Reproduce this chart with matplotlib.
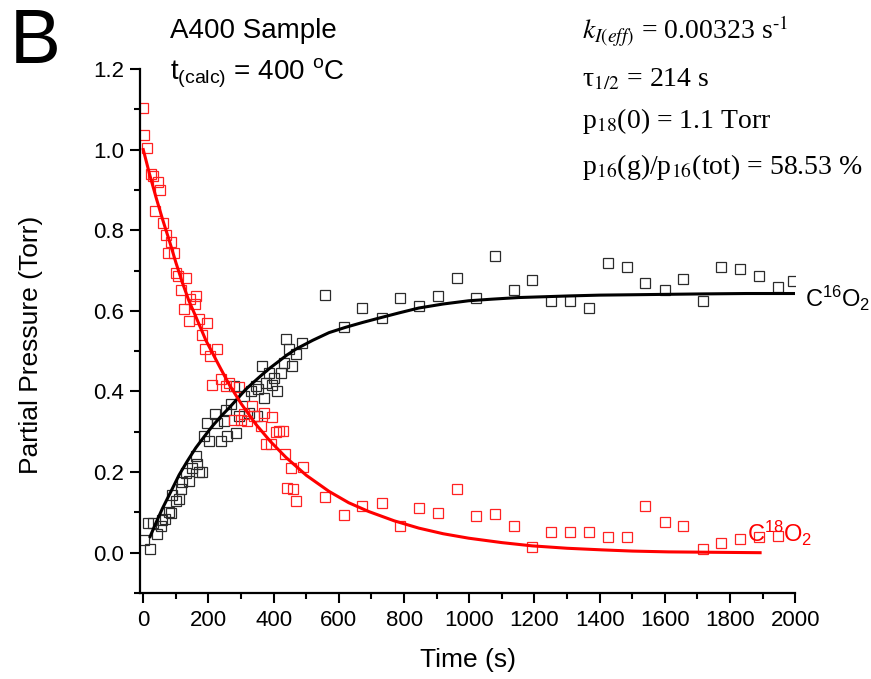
import numpy as np
import matplotlib
matplotlib.use('Agg')
import matplotlib.pyplot as plt
import matplotlib.ticker as ticker

plt.rcParams.update({'font.family': 'Liberation Sans',
                     'mathtext.fontset': 'custom',
                     'mathtext.rm': 'Liberation Sans',
                     'mathtext.it': 'Liberation Sans:italic',
                     'mathtext.bf': 'Liberation Sans:bold'})

# C16O2 measured points (time s, pressure Torr)
t16 = [3, 14, 22, 29, 41, 54, 59, 67, 78, 85, 89, 100, 110, 115, 120, 131, 141,
       151, 161, 166, 171, 181, 187, 197, 202, 220, 227, 238, 248, 253, 258, 269,
       279, 284, 294, 309, 325, 330, 345, 350, 352, 365, 370, 376, 386, 396, 401,
       411, 422, 432, 437, 447, 457, 468, 488,
       557, 616, 672, 731, 787, 845, 904, 963, 1021, 1078, 1136, 1192, 1250,
       1308, 1366, 1425, 1483, 1539, 1599, 1657, 1716, 1772, 1830, 1889, 1948, 1994]
p16 = [0.032, 0.073, 0.010, 0.073, 0.047, 0.065, 0.082, 0.084, 0.102, 0.098, 0.144,
       0.128, 0.132, 0.157, 0.176, 0.197, 0.177, 0.209, 0.239, 0.219, 0.200, 0.200,
       0.289, 0.322, 0.276, 0.344, 0.322, 0.276, 0.326, 0.355, 0.289, 0.369, 0.413,
       0.297, 0.339, 0.388, 0.347, 0.401, 0.413, 0.339, 0.405, 0.463, 0.384, 0.421,
       0.446, 0.417, 0.434, 0.401, 0.446, 0.471, 0.530, 0.505, 0.463, 0.492, 0.521,
       0.640, 0.561, 0.607, 0.582, 0.633, 0.612, 0.636, 0.681, 0.631, 0.735, 0.652,
       0.676, 0.625, 0.625, 0.606, 0.718, 0.708, 0.670, 0.652, 0.679, 0.625, 0.710,
       0.703, 0.687, 0.660, 0.675]

# C18O2 measured points
t18 = [0, 3, 13, 23, 31, 36, 44, 52, 62, 69, 75, 85, 95, 100, 108, 115, 126, 132,
       141, 143, 159, 161, 171, 180, 190, 197, 204, 212, 227, 238, 253, 263, 279,
       294, 299, 309, 319, 335, 340, 360, 370, 378, 391, 396, 406, 416, 428, 435,
       442, 452, 459, 468, 490,
       557, 616, 672, 731, 787, 845, 904, 963, 1021, 1078, 1136, 1192, 1250,
       1308, 1366, 1425, 1483, 1539, 1599, 1657, 1716, 1772, 1830, 1889, 1946]
p18 = [1.104, 1.037, 1.004, 0.940, 0.934, 0.847, 0.919, 0.899, 0.818, 0.787, 0.743,
       0.772, 0.743, 0.695, 0.687, 0.651, 0.604, 0.681, 0.575, 0.629, 0.618, 0.636,
       0.579, 0.541, 0.506, 0.569, 0.488, 0.417, 0.505, 0.430, 0.413, 0.421, 0.330,
       0.411, 0.330, 0.343, 0.326, 0.363, 0.339, 0.314, 0.347, 0.270, 0.270, 0.336,
       0.299, 0.301, 0.301, 0.245, 0.160, 0.210, 0.158, 0.129, 0.212,
       0.137, 0.094, 0.117, 0.123, 0.067, 0.112, 0.098, 0.158, 0.092, 0.095, 0.067,
       0.015, 0.051, 0.051, 0.051, 0.040, 0.040, 0.117, 0.075, 0.065, 0.008, 0.023,
       0.034, 0.038, 0.042]

# fitted curves
fit16_t = [21, 40, 59, 85, 110, 135, 161, 187, 212, 238, 263, 290, 314, 340, 365,
           390, 416, 440, 468, 520, 570, 620, 672, 723, 785, 845, 920, 998, 1070,
           1151, 1230, 1305, 1400, 1509, 1610, 1713, 1850, 2000]
fit16_p = [0.040, 0.076, 0.110, 0.152, 0.193, 0.227, 0.260, 0.288, 0.314, 0.338,
           0.359, 0.383, 0.405, 0.424, 0.442, 0.459, 0.475, 0.490, 0.505, 0.527,
           0.546, 0.559, 0.571, 0.582, 0.595, 0.607, 0.617, 0.625, 0.629, 0.633,
           0.635, 0.637, 0.639, 0.640, 0.641, 0.642, 0.643, 0.643]
fit18_t = [0, 20, 39, 60, 80, 100, 120, 140, 160, 192, 230, 263, 300, 345, 390,
           437, 500, 570, 630, 692, 770, 845, 920, 998, 1100, 1192, 1300, 1407,
           1500, 1611, 1750, 1892]
fit18_p = [1.0, 0.937, 0.882, 0.825, 0.774, 0.720, 0.670, 0.625, 0.588, 0.527,
           0.468, 0.418, 0.370, 0.319, 0.276, 0.237, 0.192, 0.152, 0.124, 0.102,
           0.079, 0.061, 0.047, 0.036, 0.025, 0.017, 0.011, 0.007, 0.004, 0.002,
           0.001, 0.0]

fig = plt.figure(figsize=(8.71, 6.79), dpi=100)
ax = fig.add_axes([140 / 871, 1 - 593 / 679, 655.3 / 871, 524 / 679])

ax.plot(t16, p16, 's', ms=6.5, mfc='none', mec='#2b2b2b', mew=0.9)
ax.plot(t18, p18, 's', ms=6.5, mfc='none', mec='#ff2222', mew=0.9)
ax.plot(fit16_t, fit16_p, '-', color='black', lw=2.2)
ax.plot(fit18_t, fit18_p, '-', color='#ff0000', lw=2.2)

ax.set_xlim(-10, 2000)
ax.set_ylim(-0.1, 1.2)
ax.xaxis.set_major_locator(ticker.MultipleLocator(200))
ax.xaxis.set_minor_locator(ticker.MultipleLocator(100))
ax.yaxis.set_major_locator(ticker.MultipleLocator(0.2))
ax.yaxis.set_minor_locator(ticker.MultipleLocator(0.1))
ax.yaxis.set_major_formatter(ticker.FormatStrFormatter('%.1f'))
ax.spines['top'].set_visible(False)
ax.spines['right'].set_visible(False)
for s in ['left', 'bottom']:
    ax.spines[s].set_linewidth(1.6)
ax.tick_params(which='major', length=7.5, width=1.5, labelsize=16)
ax.tick_params(which='minor', length=4.5, width=1.5)
ax.tick_params(axis='x', which='major', pad=5)
ax.tick_params(axis='y', which='major', pad=4)

ax.set_xlabel('Time (s)', fontsize=19, labelpad=12)
ax.set_ylabel('Partial Pressure (Torr)', fontsize=19)
ax.yaxis.set_label_coords(-0.148, 0.474)

# panel letter and sample info
fig.text(10 / 871, 1 - 63 / 679, 'B', fontsize=55, va='baseline')
fig.text(170 / 871, 1 - 38 / 679, 'A400 Sample', fontsize=20, va='baseline')
fig.text(170 / 871, 1 - 80 / 679, r't$_{\mathrm{(calc)}}$ = 400 $^{\mathrm{o}}$C',
         fontsize=20, va='baseline')

# fit parameters
serif = dict(family='Liberation Serif', math_fontfamily='stix', fontsize=20,
             va='baseline')
fig.text(582 / 871, 1 - 39 / 679, r'$k_{I(eff)}$ = 0.00323 s$^{\text{-}1}$', **serif)
fig.text(582 / 871, 1 - 86 / 679, r'τ$_{1/2}$ = 214 s', **serif)
fig.text(582 / 871, 1 - 128 / 679, r'p$_{18}$(0) = 1.1 Torr', **serif)
fig.text(582 / 871, 1 - 174 / 679, r'p$_{16}$(g)/p$_{16}$(tot) = 58.53 %', **serif)

# series labels
fig.text(805 / 871, 1 - 307 / 679, r'C$^{16}$O$_{2}$', fontsize=17, va='baseline')
fig.text(747 / 871, 1 - 542 / 679, r'C$^{18}$O$_{2}$', fontsize=17, va='baseline',
         color='#ff0000')

fig.savefig('out.png', dpi=100)
